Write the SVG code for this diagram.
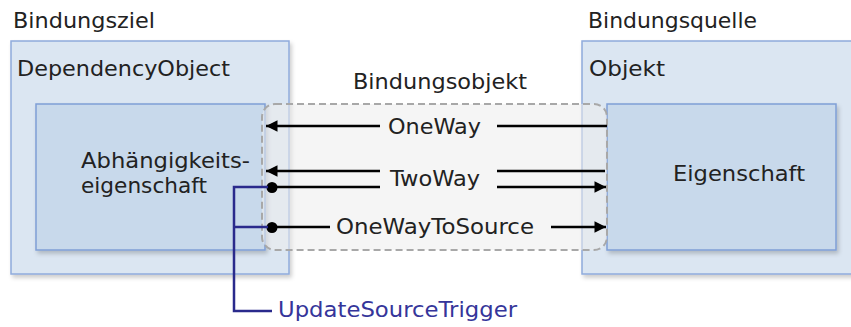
<svg xmlns="http://www.w3.org/2000/svg" width="851" height="327" viewBox="0 0 851 327">
<defs>
<style>
.t{font-family:"DejaVu Sans",Verdana,sans-serif;font-size:21px;fill:#222}
.outer{fill:#dbe6f2;stroke:#8fabdc;stroke-width:1.5}
.inner{fill:#c8d9eb;stroke:#7f9ed6;stroke-width:1.5}
.ln{stroke:#000;stroke-width:2.3;fill:none}
.blue{stroke:#2a2a8c;stroke-width:2.5;fill:none}
</style>
<filter id="sh" x="-10%" y="-10%" width="130%" height="130%">
<feDropShadow dx="2" dy="3" stdDeviation="2" flood-color="#000" flood-opacity="0.2"/>
</filter>
<marker id="ah" viewBox="0 0 10 10" refX="10" refY="5" markerWidth="5.5" markerHeight="5" orient="auto" markerUnits="strokeWidth">
<path d="M0,0 L10,5 L0,10 Z" fill="#000"/>
</marker>
</defs>
<rect width="851" height="327" fill="#fff"/>
<g id="bindungsziel">
<text class="t" x="13" y="28" textLength="142" lengthAdjust="spacingAndGlyphs">Bindungsziel</text>
<rect class="outer" x="11" y="41" width="278" height="233" filter="url(#sh)"/>
<text class="t" x="17" y="76" textLength="213" lengthAdjust="spacingAndGlyphs">DependencyObject</text>
</g>
<g id="abhaengigkeitseigenschaft">
<rect class="inner" x="36" y="104" width="229" height="146" filter="url(#sh)"/>
<text class="t" x="81" y="168" textLength="169" lengthAdjust="spacingAndGlyphs">Abhängigkeits-</text>
<text class="t" x="81" y="193" textLength="126" lengthAdjust="spacingAndGlyphs">eigenschaft</text>
</g>
<g id="bindungsquelle">
<text class="t" x="588" y="28" textLength="169" lengthAdjust="spacingAndGlyphs">Bindungsquelle</text>
<rect class="outer" x="582" y="41" width="290" height="233" filter="url(#sh)"/>
<text class="t" x="589" y="76" textLength="76" lengthAdjust="spacingAndGlyphs">Objekt</text>
</g>
<g id="eigenschaft">
<rect class="inner" x="607" y="104" width="229" height="146" filter="url(#sh)"/>
<text class="t" x="673" y="181" textLength="132" lengthAdjust="spacingAndGlyphs">Eigenschaft</text>
</g>
<g id="bindungsobjekt">
<rect x="262" y="104" width="345" height="146" rx="13" fill="#ececec" fill-opacity="0.55" stroke="#a8a8a8" stroke-width="2" stroke-dasharray="7,4"/>
<text class="t" x="353" y="89" textLength="174" lengthAdjust="spacingAndGlyphs">Bindungsobjekt</text>
</g>
<g id="connectors">
<line class="ln" x1="607" y1="126" x2="497" y2="126"/>
<line class="ln" x1="380" y1="126" x2="266" y2="126" marker-end="url(#ah)"/>
<text class="t" x="388" y="134" textLength="93" lengthAdjust="spacingAndGlyphs">OneWay</text>
<line class="ln" x1="605" y1="171" x2="497" y2="171"/>
<line class="ln" x1="380" y1="171" x2="266" y2="171" marker-end="url(#ah)"/>
<line class="ln" x1="272" y1="187" x2="380" y2="187"/>
<line class="ln" x1="497" y1="187" x2="606" y2="187" marker-end="url(#ah)"/>
<circle cx="272" cy="187.5" r="5.5" fill="#000"/>
<text class="t" x="390" y="186" textLength="90" lengthAdjust="spacingAndGlyphs">TwoWay</text>
<line class="ln" x1="272" y1="227" x2="330" y2="227"/>
<line class="ln" x1="551" y1="227" x2="606" y2="227" marker-end="url(#ah)"/>
<circle cx="272" cy="227.5" r="5.5" fill="#000"/>
<text class="t" x="336" y="234" textLength="198" lengthAdjust="spacingAndGlyphs">OneWayToSource</text>
<path class="blue" d="M268,187 H234 V311 H272 M234,227 H268"/>
</g>
<g id="updatesourcetrigger">
<text class="t" x="278" y="317" textLength="239" lengthAdjust="spacingAndGlyphs" style="fill:#35359a">UpdateSourceTrigger</text>
</g>
</svg>
